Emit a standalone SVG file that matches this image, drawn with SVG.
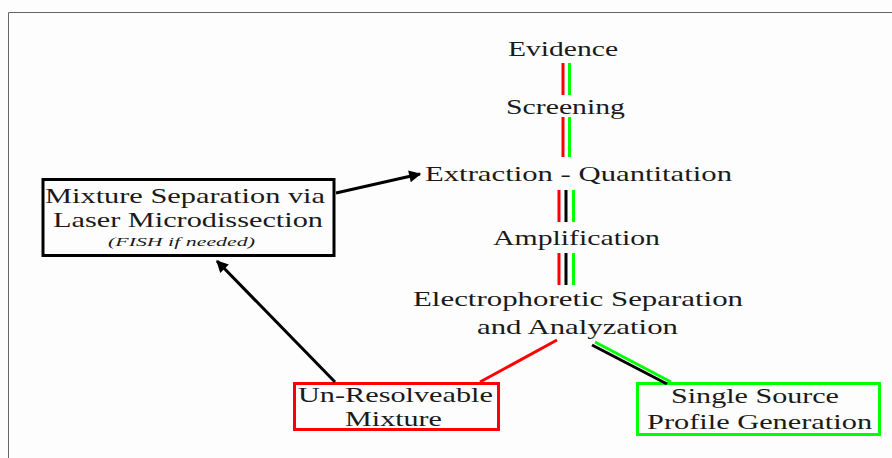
<svg xmlns="http://www.w3.org/2000/svg" width="892" height="458" viewBox="0 0 892 458">
<style>
.t{font-family:'Liberation Serif','Times New Roman',serif;font-size:21px;fill:#1a1a1a}
.s{font-family:'Liberation Serif','Times New Roman',serif;font-size:13px;font-style:italic;fill:#1a1a1a}
.r{stroke:#ff0000;stroke-width:3;fill:none}
.g{stroke:#00ff00;stroke-width:3;fill:none}
.k{stroke:#000;stroke-width:3;fill:none}
</style>
<defs>
<marker id="ah" viewBox="0 0 10 10" refX="9" refY="5" markerWidth="5" markerHeight="4" markerUnits="strokeWidth" orient="auto">
<path d="M0,0 L10,5 L0,10 z" fill="#000"/>
</marker>
</defs>
<rect x="0" y="0" width="892" height="458" fill="#fdfdfd"/>
<path d="M8.5,458 V12.5 H892" stroke="#666" stroke-width="1" fill="none"/>
<g id="evidence"><text class="t" transform="translate(508,56) scale(1.42,1)" textLength="77.5" lengthAdjust="spacingAndGlyphs">Evidence</text></g>
<g id="screening"><text class="t" transform="translate(506,114) scale(1.42,1)" textLength="83.8" lengthAdjust="spacingAndGlyphs">Screening</text></g>
<g id="extraction"><text class="t" transform="translate(425,181) scale(1.42,1)" textLength="216.2" lengthAdjust="spacingAndGlyphs">Extraction - Quantitation</text></g>
<g id="amplification"><text class="t" transform="translate(493,245) scale(1.42,1)" textLength="117.6" lengthAdjust="spacingAndGlyphs">Amplification</text></g>
<g id="electrophoretic">
<text class="t" transform="translate(413,306) scale(1.42,1)" textLength="232.4" lengthAdjust="spacingAndGlyphs">Electrophoretic Separation</text>
<text class="t" transform="translate(477,334) scale(1.42,1)" textLength="141.5" lengthAdjust="spacingAndGlyphs">and Analyzation</text>
</g>
<g id="mixture-separation">
<rect x="43" y="179.5" width="291" height="76" fill="none" stroke="#000" stroke-width="3"/>
<text class="t" transform="translate(45,203) scale(1.42,1)" textLength="197.2" lengthAdjust="spacingAndGlyphs">Mixture Separation via</text>
<text class="t" transform="translate(53,227) scale(1.42,1)" textLength="190.1" lengthAdjust="spacingAndGlyphs">Laser Microdissection</text>
<text class="s" transform="translate(108,246) scale(1.42,1)" textLength="103.5" lengthAdjust="spacingAndGlyphs">(FISH if needed)</text>
</g>
<g id="unresolveable">
<rect x="294.5" y="383.5" width="204" height="46" fill="none" stroke="#ff0000" stroke-width="3"/>
<text class="t" transform="translate(298,402) scale(1.42,1)" textLength="137.3" lengthAdjust="spacingAndGlyphs">Un-Resolveable</text>
<text class="t" transform="translate(345,426) scale(1.42,1)" textLength="68.3" lengthAdjust="spacingAndGlyphs">Mixture</text>
</g>
<g id="single-source">
<rect x="637.5" y="383.5" width="242" height="51" fill="none" stroke="#00ff00" stroke-width="3"/>
<text class="t" transform="translate(671,403) scale(1.42,1)" textLength="118.3" lengthAdjust="spacingAndGlyphs">Single Source</text>
<text class="t" transform="translate(647,429) scale(1.42,1)" textLength="158.5" lengthAdjust="spacingAndGlyphs">Profile Generation</text>
</g>
<g id="connectors">
<line class="r" x1="563" y1="63" x2="563" y2="95"/>
<line class="g" x1="569.5" y1="63" x2="569.5" y2="95"/>
<line class="r" x1="563" y1="117" x2="563" y2="157"/>
<line class="g" x1="569.5" y1="117" x2="569.5" y2="157"/>
<line class="r" x1="559" y1="190" x2="559" y2="222"/>
<line class="k" x1="566" y1="190" x2="566" y2="222"/>
<line class="g" x1="573.5" y1="190" x2="573.5" y2="222"/>
<line class="r" x1="559" y1="253" x2="559" y2="285"/>
<line class="k" x1="566" y1="253" x2="566" y2="285"/>
<line class="g" x1="573.5" y1="253" x2="573.5" y2="285"/>
<line class="r" x1="480" y1="382" x2="557" y2="340"/>
<line class="g" x1="595" y1="342" x2="671" y2="382"/>
<line class="k" x1="592" y1="345" x2="667" y2="384"/>
<line class="k" x1="336" y1="193" x2="420" y2="174" marker-end="url(#ah)"/>
<line class="k" x1="335" y1="382" x2="217" y2="261" marker-end="url(#ah)"/>
</g>
</svg>
